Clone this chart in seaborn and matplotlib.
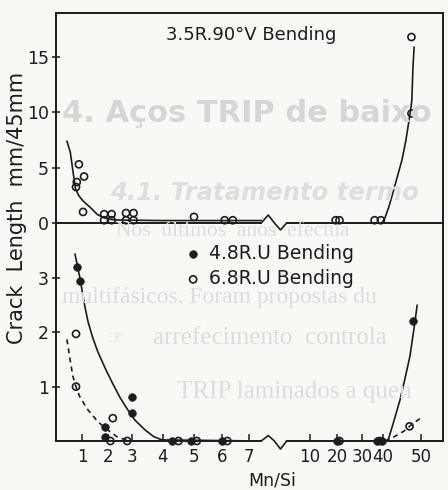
import numpy as np
import matplotlib
matplotlib.use("Agg")
import matplotlib.pyplot as plt
import seaborn as sns
from matplotlib.transforms import blended_transform_factory

# ---------------- data ----------------
# x-axis scale knots (Mn/Si value -> relative position on the printed axis)
scale_vals = [0, 1, 2, 3, 4, 5, 6, 7, 10, 20, 30, 40, 50, 60]
scale_pos = [56, 82, 108, 132, 163, 194, 222, 249, 310, 337, 362, 383, 421, 459]
xticks = [1, 2, 3, 4, 5, 6, 7, 10, 20, 30, 40, 50]
xticklabels = ["1", "2", "3", "4", "5", "6", "7", "10", "20", "30", "40", "50"]

# top panel : 3.5R.90°V bending (open circles)
v_x = [0.88, 1.08, 0.80, 0.77, 1.04, 1.85, 2.15, 1.85, 2.15, 2.75, 3.05, 2.75, 3.05,
       5.0, 6.1, 6.4, 19.5, 21.0, 36.0, 39.0, 47.5, 47.5]
v_y = [5.3, 4.2, 3.7, 3.25, 1.0, 0.8, 0.8, 0.25, 0.25, 0.9, 0.9, 0.25, 0.25,
       0.55, 0.25, 0.25, 0.25, 0.25, 0.25, 0.25, 9.9, 16.8]
v_curve_l_x = [0.42, 0.55, 0.65, 0.75, 0.87, 1.0, 1.15, 1.3, 1.45, 1.6, 1.75, 1.9, 2.1, 2.3,
               4.0, 6.0, 7.6]
v_curve_l_y = [7.4, 6.4, 4.7, 3.1, 2.5, 2.1, 1.75, 1.45, 1.1, 0.75, 0.58, 0.45, 0.33, 0.27,
               0.22, 0.22, 0.22]
v_curve_r_x = [39.5, 40.5, 41.5, 42.6, 43.8, 45.0, 46.0, 46.6, 47.2, 47.6, 47.9, 48.2]
v_curve_r_y = [0.0, 0.45, 1.4, 2.7, 4.2, 5.7, 7.4, 8.7, 10.0, 11.1, 14.1, 15.9]

# bottom panel : 4.8R.U bending (filled) and 6.8R.U bending (open)
u48_x = [0.8, 0.92, 1.9, 1.9, 3.0, 3.0, 4.3, 4.9, 6.0, 20.0, 37.0, 39.5, 47.9]
u48_y = [3.2, 2.95, 0.26, 0.07, 0.81, 0.51, 0.0, 0.0, 0.0, 0.0, 0.0, 0.0, 2.2]
u68_x = [0.77, 0.77, 2.2, 2.1, 2.8, 4.5, 5.1, 6.2, 21.0, 38.5, 47.0]
u68_y = [1.97, 1.0, 0.42, 0.0, 0.0, 0.0, 0.0, 0.0, 0.0, 0.0, 0.27]
u48_curve_l_x = [0.73, 0.92, 1.1, 1.23, 1.4, 1.6, 1.9, 2.17, 2.5, 2.83, 3.1, 3.43, 3.7,
                 3.97, 7.6]
u48_curve_l_y = [3.44, 3.0, 2.5, 2.2, 1.92, 1.65, 1.33, 1.08, 0.8, 0.57, 0.38, 0.2, 0.08,
                 0.02, 0.0]
u48_curve_r_x = [41.3, 42.8, 44.5, 45.8, 47.1, 48.4, 49.0]
u48_curve_r_y = [0.0, 0.35, 0.76, 1.15, 1.56, 2.18, 2.5]
u68_curve_l_x = [0.42, 0.54, 0.65, 0.78, 0.92, 1.23, 1.62, 2.0, 2.4, 2.9]
u68_curve_l_y = [1.87, 1.5, 1.19, 0.98, 0.81, 0.57, 0.35, 0.2, 0.07, 0.0]
u68_curve_r_x = [40.5, 43.0, 45.5, 47.5, 50.5]
u68_curve_r_y = [0.0, 0.08, 0.18, 0.3, 0.45]

# axis-break squiggle (x in Mn/Si, y as fraction of panel height)
brk_x = [7.6, 7.95, 8.25, 8.55, 8.85]
brk_top_y = [0.0, 0.038, 0.0, -0.033, 0.0]
brk_bot_y = [0.0, 0.025, 0.0, -0.037, 0.0]

labels = ["3.5R.90°V Bending", "4.8R.U Bending", "6.8R.U Bending"]

# ---------------- styling ----------------
sns.set_theme(style="white")
plt.rcParams["font.family"] = ["DejaVu Sans"]
ink = "#1c1c1c"
paper = "#f8f8f5"


def fwd(x):
    return np.interp(x, scale_vals, scale_pos)


def inv(p):
    return np.interp(p, scale_pos, scale_vals)


W, H = 448, 490
fig = plt.figure(figsize=(W / 100, H / 100), dpi=100, facecolor=paper)

# faint bleed-through text of the scanned page
serif = ["Liberation Serif", "DejaVu Sans"]
fig.text(62 / W, 1 - 113 / H, "4. Aços TRIP de baixo", fontsize=22, fontweight="bold",
         color="#d6d6d6", va="center", ha="left", zorder=0)
fig.text(110 / W, 1 - 193 / H, "4.1. Tratamento termo", fontsize=17.5, fontweight="bold",
         fontstyle="italic", color="#dedede", va="center", ha="left", zorder=0)
fig.text(116 / W, 1 - 231 / H, "Nos  últimos  anos  efectua", fontsize=15.5, family=serif,
         color="#dcdcdc", va="center", ha="left", zorder=0)
fig.text(62 / W, 1 - 298 / H, "multifásicos. Foram propostas du", fontsize=17, family=serif,
         color="#dcdcdc", va="center", ha="left", zorder=0)
fig.text(106 / W, 1 - 338 / H, "☞", fontsize=14, family=["DejaVu Sans"],
         color="#dcdcdc", va="center", ha="left", zorder=0)
fig.text(153 / W, 1 - 338 / H, "arrefecimento  controla", fontsize=18, family=serif,
         color="#dcdcdc", va="center", ha="left", zorder=0)
fig.text(177 / W, 1 - 392 / H, "TRIP laminados a quen", fontsize=18, family=serif,
         color="#dcdcdc", va="center", ha="left", zorder=0)

ax_top = fig.add_axes([56 / W, 1 - 223 / H, 387 / W, 210 / H])
ax_bot = fig.add_axes([56 / W, 1 - 441 / H, 387 / W, 218 / H], sharex=ax_top)
for ax in (ax_top, ax_bot):
    ax.set_xscale("function", functions=(fwd, inv))
    ax.patch.set_alpha(0)
    for s in ax.spines.values():
        s.set_color(ink)
        s.set_linewidth(1.4)
ax_bot.spines["top"].set_visible(False)

# ---- top panel
sns.lineplot(x=v_curve_l_x, y=v_curve_l_y, ax=ax_top, color=ink, lw=1.2,
             sort=False, estimator=None, legend=False)
sns.lineplot(x=v_curve_r_x, y=v_curve_r_y, ax=ax_top, color=ink, lw=1.2,
             sort=False, estimator=None, legend=False)
sns.scatterplot(x=v_x, y=v_y, ax=ax_top, marker="o", s=26, facecolor="none",
                edgecolor=ink, linewidth=1.2, clip_on=False, zorder=5)
ax_top.text((251 - 56) / 387, (223 - 35) / 210, labels[0], transform=ax_top.transAxes,
            ha="center", va="center", fontsize=13, color=ink)

# ---- bottom panel
sns.lineplot(x=u48_curve_l_x, y=u48_curve_l_y, ax=ax_bot, color=ink, lw=1.2,
             sort=False, estimator=None, legend=False)
sns.lineplot(x=u48_curve_r_x, y=u48_curve_r_y, ax=ax_bot, color=ink, lw=1.2,
             sort=False, estimator=None, legend=False)
sns.lineplot(x=u68_curve_l_x, y=u68_curve_l_y, ax=ax_bot, color=ink, lw=1.2,
             linestyle=(0, (3, 2.5)), sort=False, estimator=None, legend=False)
sns.lineplot(x=u68_curve_r_x, y=u68_curve_r_y, ax=ax_bot, color=ink, lw=1.2,
             linestyle=(0, (3, 2.5)), sort=False, estimator=None, legend=False)
sns.scatterplot(x=u48_x, y=u48_y, ax=ax_bot, marker="o", s=30, color=ink,
                edgecolor=ink, linewidth=0.5, clip_on=False, zorder=6, label=labels[1])
sns.scatterplot(x=u68_x, y=u68_y, ax=ax_bot, marker="o", s=26, facecolor="none",
                edgecolor=ink, linewidth=1.2, clip_on=False, zorder=6, label=labels[2])
h, l = ax_bot.get_legend_handles_labels()
ax_bot.legend(h, l, loc="upper left", bbox_to_anchor=(0.335, 0.905), frameon=False,
              handlelength=0.8, handletextpad=0.45, labelspacing=0.35, borderpad=0,
              borderaxespad=0, fontsize=13.5, labelcolor=ink)

# ---- axes limits & ticks
ax_top.set_xlim(0, 55.8)
ax_top.set_ylim(0, 18.97)
ax_bot.set_ylim(0, 4.01)
ax_top.set_yticks([0, 5, 10, 15])
ax_bot.set_yticks([1, 2, 3])
ax_bot.set_xticks(xticks)
ax_bot.set_xticklabels(xticklabels)
ax_bot.xaxis.set_minor_locator(matplotlib.ticker.NullLocator())
ax_top.tick_params(axis="x", which="both", bottom=False, labelbottom=False)
ax_bot.tick_params(axis="x", which="major", direction="in", length=5, width=1.1,
                   color=ink, labelsize=12, labelcolor=ink, pad=5, bottom=True)
for ax in (ax_top, ax_bot):
    ax.tick_params(axis="y", direction="inout", length=6, width=1.1, color=ink,
                   labelsize=12.5, labelcolor=ink, pad=2, left=True)
    ax.set_xlabel("")
    ax.set_ylabel("")

# ---- axis-break squiggles
for ax, by in ((ax_top, brk_top_y), (ax_bot, brk_bot_y)):
    tr = blended_transform_factory(ax.transData, ax.transAxes)
    ax.plot([brk_x[0] + 0.05, brk_x[-1] - 0.05], [0, 0], transform=tr, color=paper,
            lw=3, clip_on=False, zorder=7, solid_capstyle="butt")
    ax.plot(brk_x, by, transform=tr, color=ink, lw=1.2, clip_on=False, zorder=8)

fig.text(17 / W, 1 - 208 / H, "Crack  Length  mm/45mm", rotation=90, ha="center",
         va="center", fontsize=15, color=ink)
fig.text(272 / W, 1 - 489 / H, "Mn/Si", ha="center", va="bottom", fontsize=12.5, color=ink)

fig.savefig("out.png", dpi=100, facecolor=paper)
